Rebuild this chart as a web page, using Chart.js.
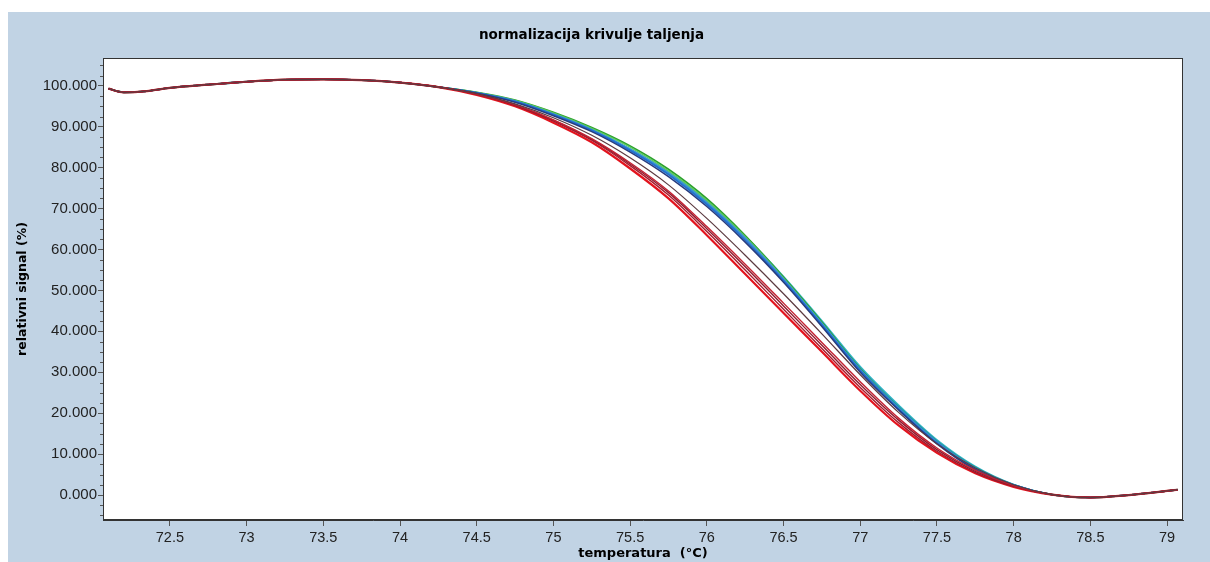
<!DOCTYPE html>
<html>
<head>
<meta charset="utf-8">
<script src="https://cdn.jsdelivr.net/npm/chart.js@4.4.1/dist/chart.umd.min.js"></script>
<style>
  html, body { margin: 0; padding: 0; background: #c1d3e4; }
  #wrap { width: 1210px; height: 562px; position: relative; }
</style>
</head>
<body>
<div id="wrap"><canvas id="c"></canvas></div>
<script>
// ---- data ----
const headT      = [72.1, 72.2, 72.35, 72.5, 72.75, 73.0, 73.25, 73.5, 73.75, 74.0, 74.25];
const headSignal = [99.3, 98.4, 98.7, 99.5, 100.3, 101.0, 101.5, 101.6, 101.4, 100.8, 99.7];
const meltT      = [74.5, 74.75, 75.0, 75.25, 75.5, 75.75, 76.0, 76.25, 76.5, 76.75, 77.0, 77.25, 77.5, 77.75, 78.0];
const tailT      = [78.25, 78.5, 78.75, 79.0, 79.07];
const tailSignal = [0.1, -0.6, 0.0, 1.0, 1.3];

const red1   = [97.8, 95.0, 91.0, 86.2, 79.8, 72.5, 63.5, 54.0, 44.5, 35.0, 25.5, 17.0, 10.3, 5.3, 2.0];
const red2   = [97.9, 95.2, 91.4, 86.7, 80.5, 73.3, 64.4, 55.0, 45.4, 35.8, 26.3, 17.7, 10.7, 5.5, 2.1];
const red3   = [98.0, 95.3, 91.6, 86.9, 80.9, 73.9, 65.1, 55.8, 46.2, 36.6, 27.0, 18.3, 11.1, 5.8, 2.2];
const red4   = [98.0, 95.4, 91.7, 87.1, 81.2, 74.3, 65.6, 56.4, 46.9, 37.3, 27.7, 18.8, 11.5, 6.1, 2.3];
const dark5  = [98.1, 95.6, 92.2, 87.9, 82.4, 75.8, 67.6, 58.6, 49.2, 39.4, 29.4, 20.2, 12.5, 6.6, 2.5];
const navy1  = [98.2, 96.0, 92.7, 88.8, 83.8, 77.8, 70.5, 61.8, 52.0, 41.2, 30.0, 20.8, 12.5, 6.2, 2.3];
const blue1  = [98.3, 96.2, 93.0, 89.1, 84.2, 78.3, 71.0, 62.3, 52.4, 41.6, 30.4, 21.0, 12.7, 6.4, 2.4];
const blue2  = [98.3, 96.3, 93.1, 89.3, 84.5, 78.7, 71.5, 62.8, 52.8, 41.9, 30.7, 21.3, 13.0, 6.6, 2.5];
const green2 = [98.4, 96.4, 93.4, 89.6, 85.0, 79.2, 72.0, 63.1, 53.0, 42.0, 30.6, 21.1, 12.8, 6.4, 2.4];
const green1 = [98.4, 96.5, 93.5, 89.8, 85.3, 79.6, 72.4, 63.4, 53.2, 42.2, 30.8, 21.2, 12.9, 6.5, 2.4];
const teal1  = [98.3, 96.2, 93.0, 89.2, 84.4, 78.6, 71.4, 62.8, 53.0, 42.2, 31.0, 21.6, 13.2, 6.8, 2.5];
const cyan1  = [98.3, 96.2, 93.1, 89.3, 84.6, 78.9, 71.8, 63.2, 53.4, 42.6, 31.4, 22.0, 13.5, 7.0, 2.6];

const xTickValues = [72.5, 73, 73.5, 74, 74.5, 75, 75.5, 76, 76.5, 77, 77.5, 78, 78.5, 79];
const xTickLabels = ['72.5','73','73.5','74','74.5','75','75.5','76','76.5','77','77.5','78','78.5','79'];
const yTickValues = [0, 10, 20, 30, 40, 50, 60, 70, 80, 90, 100];
const yTickLabels = ['0.000','10.000','20.000','30.000','40.000','50.000','60.000','70.000','80.000','90.000','100.000'];

const titleText = 'normalizacija krivulje taljenja';
const xTitle = 'temperatura  (°C)';
const yTitle = 'relativni signal (%)';

// ---- build datasets ----
const temps = headT.concat(meltT, tailT);
function series(melt) {
  const vals = headSignal.concat(melt, tailSignal);
  return temps.map((t, i) => ({ x: t, y: vals[i] }));
}
const seriesList = [
  { d: dark5,  c: '#5b3a40', w: 1.2 },
  { d: red4,   c: '#c42232', w: 1.4 },
  { d: red3,   c: '#8e1b2e', w: 1.4 },
  { d: red2,   c: '#a8182a', w: 1.4 },
  { d: red1,   c: '#e3141e', w: 2.2 },
  { d: navy1,  c: '#263c80', w: 1.5 },
  { d: blue1,  c: '#1f6fd0', w: 1.8 },
  { d: blue2,  c: '#3d8fd8', w: 1.5 },
  { d: green2, c: '#5cc860', w: 1.5 },
  { d: green1, c: '#2ca02c', w: 1.8 },
  { d: teal1,  c: '#1a9a9a', w: 1.6 },
  { d: cyan1,  c: '#33b5c8', w: 1.6 }
];
const datasets = seriesList.map(s => ({
  data: series(s.d),
  borderColor: s.c,
  borderWidth: s.w,
  pointRadius: 0,
  fill: false,
  cubicInterpolationMode: 'monotone'
}));

const bgPlugin = {
  id: 'bg',
  beforeDraw(chart) {
    const ctx = chart.ctx, a = chart.chartArea;
    ctx.save();
    ctx.fillStyle = '#ffffff';
    ctx.fillRect(0, 0, chart.width, chart.height);
    ctx.fillStyle = '#c1d3e4';
    ctx.fillRect(8, 12, chart.width - 8, chart.height - 12);
    ctx.fillStyle = '#ffffff';
    ctx.fillRect(a.left, a.top, a.right - a.left, a.bottom - a.top);
    ctx.restore();
  },
  afterDraw(chart) {
    const ctx = chart.ctx, a = chart.chartArea, ys = chart.scales.y;
    ctx.save();
    ctx.strokeStyle = '#333333';
    ctx.lineWidth = 1;
    ctx.strokeRect(Math.round(a.left) + 0.5, Math.round(a.top) + 0.5,
                   Math.round(a.right - a.left) - 1, Math.round(a.bottom - a.top) - 1);
    // minor y ticks every 2.5
    ctx.strokeStyle = '#555555';
    ctx.beginPath();
    for (let v = -5; v <= 105; v += 2.5) {
      if (v % 10 === 0) continue;
      const py = Math.round(ys.getPixelForValue(v)) + 0.5;
      ctx.moveTo(a.left - 3, py);
      ctx.lineTo(a.left, py);
    }
    ctx.stroke();
    ctx.restore();
  }
};

new Chart(document.getElementById('c'), {
  type: 'line',
  data: { datasets },
  plugins: [bgPlugin],
  options: {
    responsive: true,
    maintainAspectRatio: false,
    animation: false,
    layout: { padding: { left: 0, right: 27, top: 0, bottom: 0 } },
    plugins: {
      legend: { display: false },
      tooltip: { enabled: false },
      title: {
        display: true,
        text: titleText,
        color: '#000000',
        font: { family: 'DejaVu Sans', size: 13.5, weight: 'bold', lineHeight: 1.2 },
        padding: { top: 27, bottom: 14.8 }
      }
    },
    scales: {
      x: {
        type: 'linear',
        min: 72.064,
        max: 79.104,
        afterBuildTicks(scale) { scale.ticks = xTickValues.map(v => ({ value: v })); },
        afterFit(scale) { scale.height = 42; },
        grid: { display: true, drawOnChartArea: false, drawTicks: true, tickLength: 6, color: '#555555' },
        border: { display: true, color: '#333333' },
        ticks: {
          autoSkip: false, maxRotation: 0, padding: 3, color: '#222222',
          font: { family: 'Liberation Sans', size: 14.5 },
          callback: (v, i) => xTickLabels[i]
        },
        title: {
          display: true, text: xTitle, color: '#000000',
          font: { family: 'DejaVu Sans', size: 13, weight: 'bold', lineHeight: 1.2 },
          padding: { top: 0, bottom: 1 }
        }
      },
      y: {
        type: 'linear',
        min: -6.1,
        max: 106.8,
        afterBuildTicks(scale) { scale.ticks = yTickValues.map(v => ({ value: v })); },
        afterFit(scale) { scale.width = 103; },
        grid: { display: true, drawOnChartArea: false, drawTicks: true, tickLength: 5, color: '#555555' },
        border: { display: true, color: '#333333' },
        ticks: {
          autoSkip: false, padding: 1, color: '#222222',
          font: { family: 'Liberation Sans', size: 15 },
          callback: (v, i) => yTickLabels[i]
        },
        title: {
          display: true, text: yTitle, color: '#000000',
          font: { family: 'DejaVu Sans', size: 12.5, weight: 'bold', lineHeight: 1.2 },
          padding: { top: 15, bottom: 0 }
        }
      }
    }
  }
});
</script>
</body>
</html>
